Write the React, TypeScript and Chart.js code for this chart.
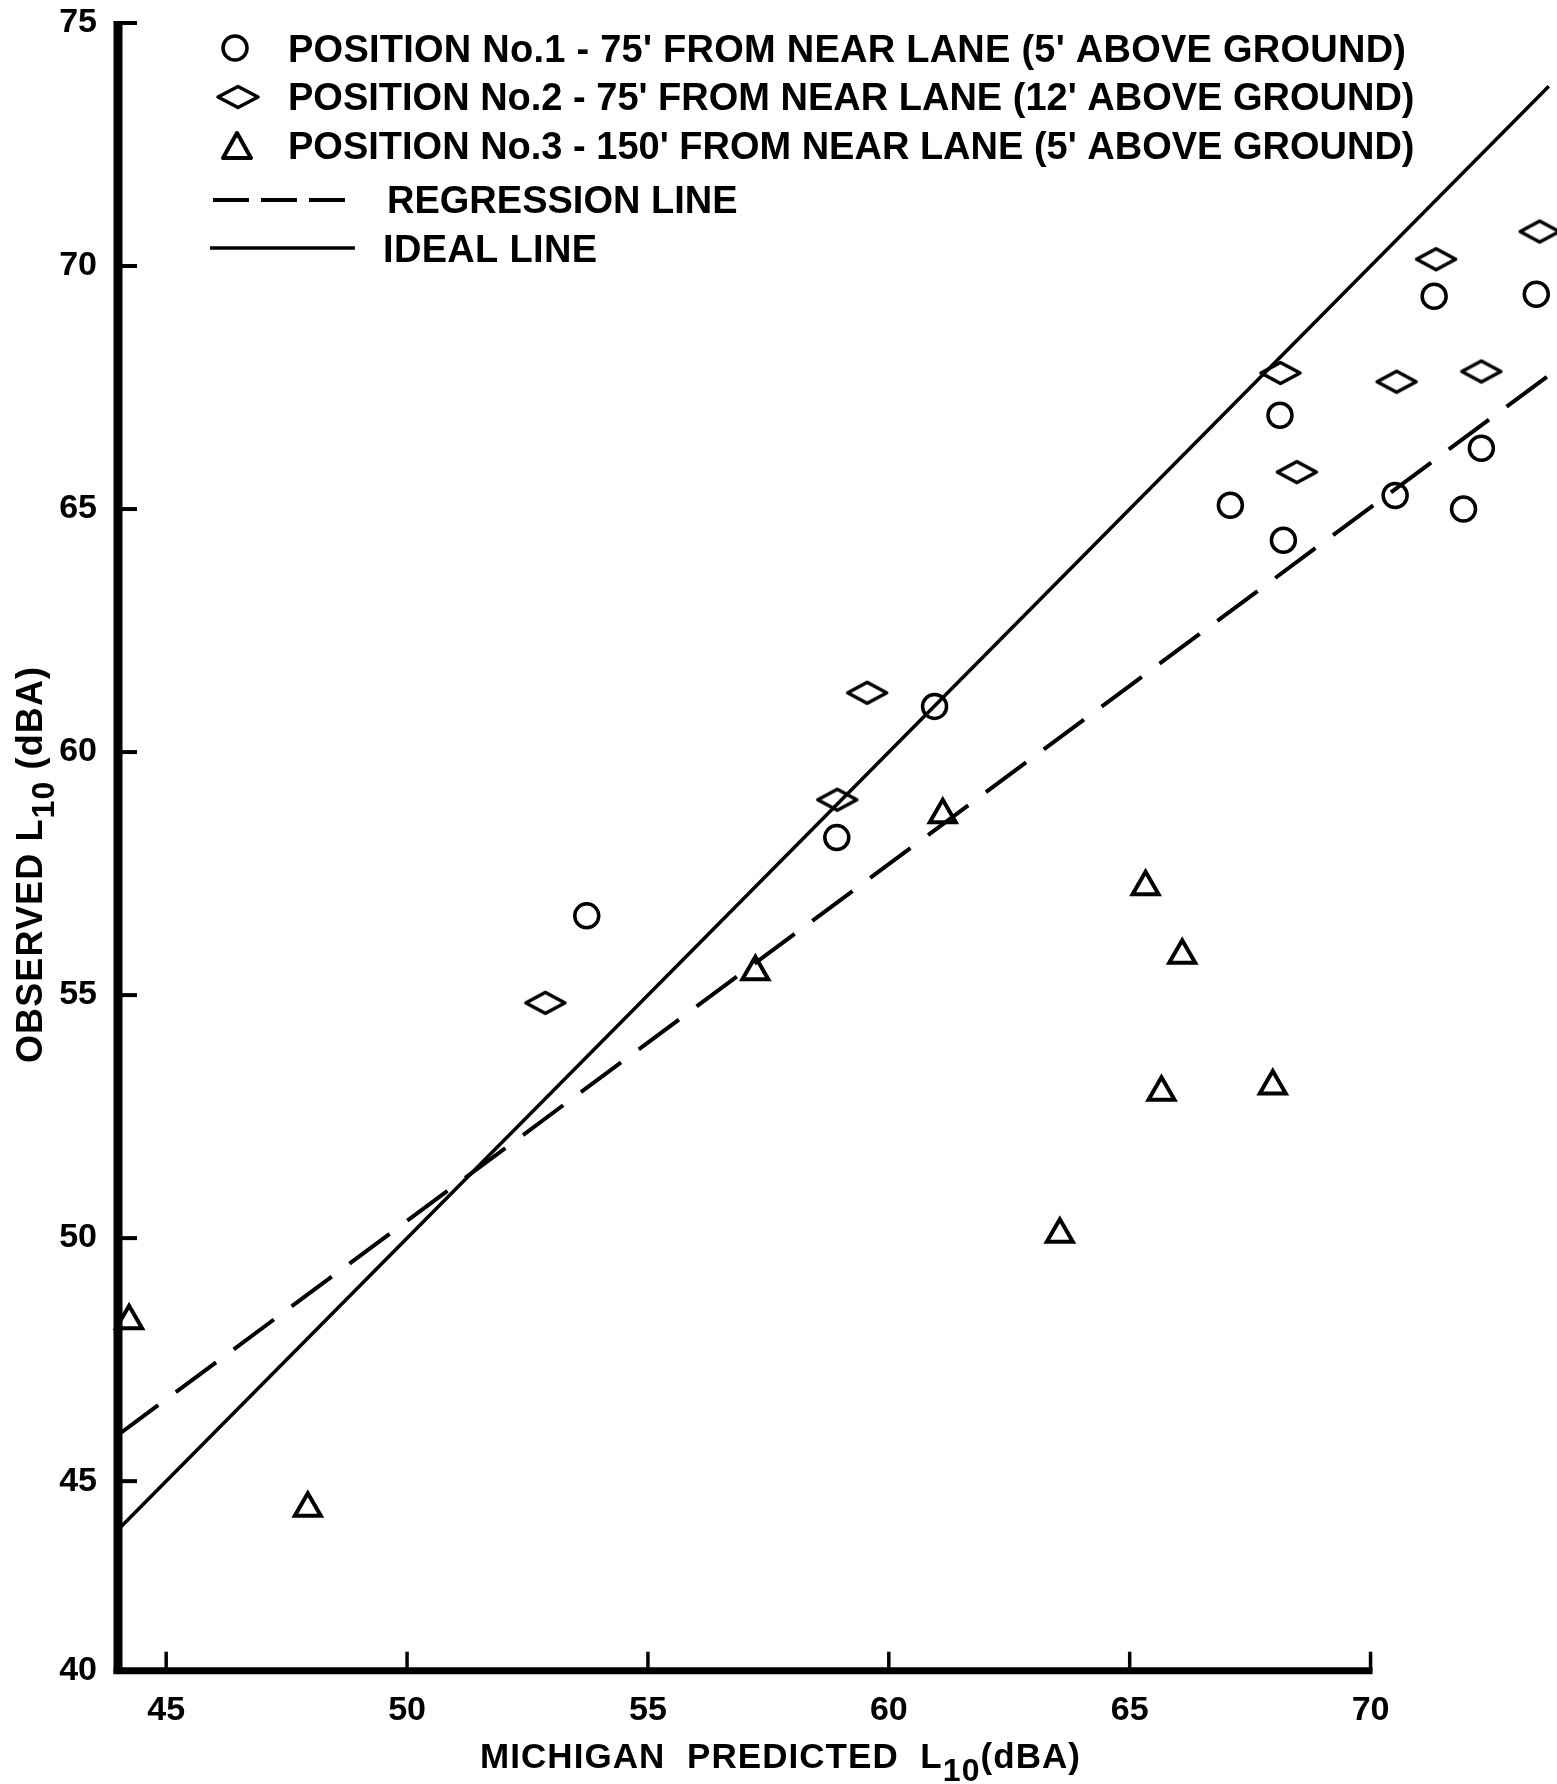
import React, { useEffect, useRef } from "react";
import { Chart, registerables } from "chart.js";

Chart.register(...registerables);

const FONT = '"Liberation Sans", Arial, sans-serif';

// ---- data ----
const pos1X = [53.73, 58.92, 60.95, 67.09, 68.12, 68.19, 70.51, 71.32, 71.93, 72.3, 73.44];
const pos1Y = [56.63, 58.24, 60.94, 65.08, 66.93, 64.36, 65.28, 69.38, 65.0, 66.25, 69.42];

const pos2X = [52.87, 58.93, 59.55, 68.13, 68.47, 70.54, 71.36, 72.3, 73.51];
const pos2Y = [54.84, 59.02, 61.22, 67.8, 65.76, 67.62, 70.14, 67.83, 70.71];

const pos3X = [44.23, 47.94, 57.23, 61.12, 63.55, 65.33, 65.66, 66.09, 67.97];
const pos3Y = [48.3, 44.44, 55.48, 58.71, 50.08, 57.23, 53.0, 55.82, 53.13];

const idealX = [44, 73.7];
const idealY = [44, 73.7];
const regressionX = [44, 73.7];
const regressionY = [45.95, 67.75];

const xTicks = [45, 50, 55, 60, 65, 70];
const xTickLabels = ["45", "50", "55", "60", "65", "70"];
const yTicks = [41.1, 45, 50, 55, 60, 65, 70, 75];
const yTickLabels = ["40", "45", "50", "55", "60", "65", "70", "75"];
const yTickMarks = [45, 50, 55, 60, 65, 70, 75];

const X_MIN = 44;
const X_MAX = 73.87;
const X_AXIS_END = 70;
const Y_MIN = 41.1;
const Y_MAX = 75;

const legendLabels = [
  "POSITION No.1 - 75' FROM NEAR LANE (5' ABOVE GROUND)",
  "POSITION No.2 - 75' FROM NEAR LANE (12' ABOVE GROUND)",
  "POSITION No.3 - 150' FROM NEAR LANE (5' ABOVE GROUND)",
  "REGRESSION LINE",
  "IDEAL LINE",
];

const xTitle = [
  { text: "MICHIGAN  PREDICTED  L", sub: false },
  { text: "10", sub: true },
  { text: "(dBA)", sub: false },
];
const yTitle = [
  { text: "OBSERVED L", sub: false },
  { text: "10", sub: true },
  { text: " (dBA)", sub: false },
];

const toPoints = (xs: number[], ys: number[]) => xs.map((x, i) => ({ x, y: ys[i] }));

type Seg = { text: string; sub: boolean };

function drawFitted(
  ctx: CanvasRenderingContext2D,
  segs: Seg[],
  x: number,
  baseline: number,
  target: number,
  size: number,
  subSize: number,
  subDrop: number
) {
  const c = ctx as any;
  c.letterSpacing = "0px";
  let w0 = 0;
  let n = 0;
  const widths: number[] = [];
  segs.forEach((s) => {
    ctx.font = `bold ${s.sub ? subSize : size}px ${FONT}`;
    const w = ctx.measureText(s.text).width;
    widths.push(w);
    w0 += w;
    n += s.text.length;
  });
  const sp = Math.max(0, (target - w0) / Math.max(1, n - 1));
  let cx = x;
  segs.forEach((s, i) => {
    ctx.font = `bold ${s.sub ? subSize : size}px ${FONT}`;
    c.letterSpacing = `${sp}px`;
    ctx.fillText(s.text, cx, baseline + (s.sub ? subDrop : 0));
    cx += widths[i] + sp * s.text.length;
  });
  c.letterSpacing = "0px";
}

const axesPlugin = {
  id: "paperAxes",
  beforeDatasetsDraw(chart: any) {
    const { ctx } = chart;
    const xs = chart.scales.x;
    const ys = chart.scales.y;
    const left = xs.getPixelForValue(X_MIN);
    const bottom = ys.getPixelForValue(Y_MIN);
    ctx.save();
    ctx.strokeStyle = "#000";
    ctx.lineCap = "butt";
    // y axis
    ctx.lineWidth = 9;
    ctx.beginPath();
    ctx.moveTo(left, bottom + 3);
    ctx.lineTo(left, ys.getPixelForValue(Y_MAX) - 2);
    ctx.stroke();
    ctx.lineWidth = 4;
    yTickMarks.forEach((v) => {
      const py = ys.getPixelForValue(v);
      ctx.beginPath();
      ctx.moveTo(left, py);
      ctx.lineTo(left + 19, py);
      ctx.stroke();
    });
    // x axis
    const xEnd = xs.getPixelForValue(X_AXIS_END);
    ctx.lineWidth = 7;
    ctx.beginPath();
    ctx.moveTo(left - 4.5, bottom);
    ctx.lineTo(xEnd + 2, bottom);
    ctx.stroke();
    ctx.lineWidth = 3.5;
    xTicks.forEach((v) => {
      const px = xs.getPixelForValue(v);
      ctx.beginPath();
      ctx.moveTo(px, bottom);
      ctx.lineTo(px, bottom - 19);
      ctx.stroke();
    });
    ctx.restore();
  },
  afterDraw(chart: any) {
    const { ctx } = chart;
    ctx.save();
    ctx.fillStyle = "#000";
    ctx.strokeStyle = "#000";
    ctx.textAlign = "left";
    ctx.textBaseline = "alphabetic";

    // legend markers
    ctx.lineWidth = 3.5;
    ctx.beginPath();
    ctx.arc(235, 48, 12, 0, Math.PI * 2);
    ctx.stroke();
    ctx.lineJoin = "round";
    ctx.beginPath();
    ctx.moveTo(218, 97);
    ctx.lineTo(238, 86.5);
    ctx.lineTo(258, 97);
    ctx.lineTo(238, 107.5);
    ctx.closePath();
    ctx.stroke();
    ctx.lineWidth = 4;
    ctx.beginPath();
    ctx.moveTo(237, 133);
    ctx.lineTo(251, 158);
    ctx.lineTo(223, 158);
    ctx.closePath();
    ctx.stroke();
    ctx.lineWidth = 4;
    ctx.setLineDash([36, 12]);
    ctx.beginPath();
    ctx.moveTo(213, 200);
    ctx.lineTo(357, 200);
    ctx.stroke();
    ctx.setLineDash([]);
    ctx.lineWidth = 3.5;
    ctx.beginPath();
    ctx.moveTo(210, 248);
    ctx.lineTo(355, 248);
    ctx.stroke();

    // legend texts
    const rows = [
      { x: 288, b: 62, w: 1118 },
      { x: 288, b: 110, w: 1118 },
      { x: 288, b: 159, w: 1118 },
      { x: 387, b: 213, w: 313 },
      { x: 383, b: 262, w: 214 },
    ];
    legendLabels.forEach((t, i) => {
      const r = rows[i];
      drawFitted(ctx, [{ text: t, sub: false }], r.x, r.b, r.w, 38, 38, 0);
    });

    // x title
    drawFitted(ctx, xTitle, 480, 1768, 600, 35, 32, 13);

    // y title (rotated)
    ctx.save();
    ctx.translate(42, 1063);
    ctx.rotate(-Math.PI / 2);
    drawFitted(ctx, yTitle, 0, 0, 396, 36, 32, 12);
    ctx.restore();

    ctx.restore();
  },
};

function makeDiamond(): HTMLCanvasElement {
  const c = document.createElement("canvas");
  c.width = 48;
  c.height = 30;
  const g = c.getContext("2d")!;
  g.strokeStyle = "#000";
  g.lineWidth = 3.5;
  g.lineJoin = "round";
  g.beginPath();
  g.moveTo(4.5, 15);
  g.lineTo(24, 4.5);
  g.lineTo(43.5, 15);
  g.lineTo(24, 25.5);
  g.closePath();
  g.stroke();
  return c;
}

export default function App() {
  const ref = useRef<HTMLCanvasElement | null>(null);

  useEffect(() => {
    if (!ref.current) return;
    const diamond = makeDiamond();
    const tickFont = { family: FONT, size: 34, weight: "bold" as const };
    const chart = new Chart(ref.current, {
      type: "scatter",
      data: {
        datasets: [
          {
            label: legendLabels[0],
            data: toPoints(pos1X, pos1Y),
            pointStyle: "circle",
            pointRadius: 12,
            borderWidth: 3.5,
            borderColor: "#000",
            backgroundColor: "rgba(0,0,0,0)",
            clip: false as any,
          },
          {
            label: legendLabels[1],
            data: toPoints(pos2X, pos2Y),
            pointStyle: diamond as any,
            pointRadius: 15,
            borderColor: "#000",
            backgroundColor: "rgba(0,0,0,0)",
            clip: false as any,
          },
          {
            label: legendLabels[2],
            data: toPoints(pos3X, pos3Y),
            pointStyle: "triangle",
            pointRadius: 15,
            borderWidth: 4,
            borderColor: "#000",
            backgroundColor: "rgba(0,0,0,0)",
            clip: false as any,
          },
          {
            label: legendLabels[3],
            data: toPoints(regressionX, regressionY),
            showLine: true,
            pointRadius: 0,
            borderWidth: 4,
            borderDash: [50, 22],
            borderColor: "#000",
            backgroundColor: "rgba(0,0,0,0)",
          },
          {
            label: legendLabels[4],
            data: toPoints(idealX, idealY),
            showLine: true,
            pointRadius: 0,
            borderWidth: 3.5,
            borderColor: "#000",
            backgroundColor: "rgba(0,0,0,0)",
          },
        ],
      },
      options: {
        responsive: false,
        animation: false,
        devicePixelRatio: 1,
        layout: { autoPadding: false, padding: { top: 23, right: 0, bottom: 0, left: 0 } },
        plugins: { legend: { display: false }, tooltip: { enabled: false } },
        scales: {
          x: {
            type: "linear",
            min: X_MIN,
            max: X_MAX,
            grid: { display: false },
            border: { display: false },
            ticks: {
              font: tickFont,
              color: "#000",
              padding: 12,
              autoSkip: false,
              maxRotation: 0,
              callback: (_v: any, i: number) => xTickLabels[i],
            },
            afterBuildTicks: (s: any) => {
              s.ticks = xTicks.map((v) => ({ value: v }));
            },
            afterFit: (s: any) => {
              s.height = 113.3;
              s.paddingLeft = 0;
              s.paddingRight = 0;
            },
          },
          y: {
            type: "linear",
            min: Y_MIN,
            max: Y_MAX,
            grid: { display: false },
            border: { display: false },
            ticks: {
              font: tickFont,
              color: "#000",
              padding: 13,
              autoSkip: false,
              callback: (_v: any, i: number) => yTickLabels[i],
            },
            afterBuildTicks: (s: any) => {
              s.ticks = yTicks.map((v) => ({ value: v }));
            },
            afterFit: (s: any) => {
              s.width = 118;
              s.paddingTop = 0;
              s.paddingBottom = 0;
            },
          },
        },
      },
      plugins: [axesPlugin as any],
    });
    return () => chart.destroy();
  }, []);

  return (
    <div style={{ position: "absolute", left: 0, top: 0, width: 1557, height: 1784, background: "#fff" }}>
      <canvas ref={ref} width={1557} height={1784} style={{ display: "block", width: 1557, height: 1784 }} />
    </div>
  );
}
